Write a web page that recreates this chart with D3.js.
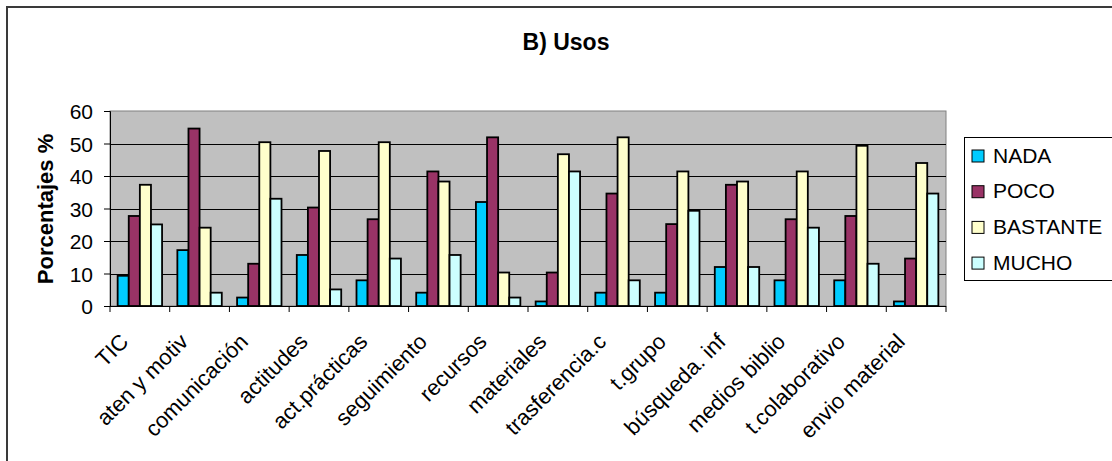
<!DOCTYPE html>
<html>
<head>
<meta charset="utf-8">
<script src="https://cdn.jsdelivr.net/npm/d3@7"></script>
<style>
  html, body { margin: 0; padding: 0; background: #fff; }
  svg { display: block; font-family: "Liberation Sans", Arial, sans-serif; }
</style>
</head>
<body>
<svg id="chart" width="1112" height="461"></svg>
<script>
// Categories and series (percentages)
const categories = ["TIC", "aten y motiv", "comunicación", "actitudes", "act.prácticas",
  "seguimiento", "recursos", "materiales", "trasferencia.c", "t.grupo",
  "búsqueda. inf", "medios biblio", "t.colaborativo", "envio material"];
const seriesNames = ["NADA", "POCO", "BASTANTE", "MUCHO"];
const nada     = [9.3, 17.2, 2.6, 15.7, 7.9, 4.1, 32.0, 1.4, 4.1, 4.1, 12.0, 7.9, 7.9, 1.4];
const poco     = [27.7, 54.6, 13.0, 30.3, 26.7, 41.4, 51.9, 10.3, 34.6, 25.2, 37.3, 26.7, 27.7, 14.6];
const bastante = [37.3, 24.1, 50.4, 47.7, 50.4, 38.3, 10.3, 46.7, 51.9, 41.4, 38.3, 41.4, 49.3, 44.0];
const mucho    = [25.1, 4.1, 33.0, 5.1, 14.6, 15.7, 2.6, 41.4, 7.9, 29.3, 12.0, 24.1, 13.0, 34.6];
const yTicks = [0, 10, 20, 30, 40, 50, 60];
const colors = ["#00CCFF", "#993366", "#FFFFCC", "#CCFFFF"];

const seriesValues = [nada, poco, bastante, mucho];

const svg = d3.select("#chart");

// Outer chart frame
svg.append("rect").attr("x", 7).attr("y", 7).attr("width", 1120).attr("height", 470)
  .attr("fill", "#fff").attr("stroke", "#3a3a3a").attr("stroke-width", 2);

const plot = { left: 110, right: 946, top: 111, bottom: 306 };

const x0 = d3.scaleBand().domain(categories).range([plot.left, plot.right]).paddingInner(0).paddingOuter(0);
const innerPad = 0.128;
const x1 = d3.scaleBand().domain(seriesNames)
  .range([x0.bandwidth() * innerPad, x0.bandwidth() * (1 - innerPad)]).padding(0);
const y = d3.scaleLinear().domain([0, 60]).range([plot.bottom, plot.top]);

// Plot background
svg.append("rect").attr("x", plot.left).attr("y", plot.top)
  .attr("width", plot.right - plot.left).attr("height", plot.bottom - plot.top)
  .attr("fill", "#C0C0C0").attr("stroke", "#808080").attr("stroke-width", 1);

// Gridlines
svg.append("g").selectAll("line").data(yTicks.filter(t => t > 0 && t < 60)).join("line")
  .attr("x1", plot.left).attr("x2", plot.right)
  .attr("y1", d => Math.round(y(d)) + 0.5).attr("y2", d => Math.round(y(d)) + 0.5)
  .attr("stroke", "#000").attr("stroke-width", 1);

// Bars
const groups = svg.append("g").selectAll("g").data(categories).join("g")
  .attr("transform", d => `translate(${x0(d)},0)`);
groups.selectAll("rect")
  .data((c, i) => seriesNames.map((s, k) => ({ s, k, v: seriesValues[k][i] })))
  .join("rect")
  .attr("x", d => x1(d.s))
  .attr("y", d => y(d.v))
  .attr("width", x1.bandwidth())
  .attr("height", d => plot.bottom - y(d.v))
  .attr("fill", d => colors[d.k])
  .attr("stroke", "#000").attr("stroke-width", 1.8);

// Y axis
const yAxis = d3.axisLeft(y).tickValues(yTicks).tickSize(6).tickPadding(11);
const gy = svg.append("g").attr("transform", `translate(${plot.left},0)`).call(yAxis);
gy.select(".domain").attr("stroke", "#000");
gy.selectAll(".tick line").attr("stroke", "#000");
gy.selectAll("text").attr("font-size", 21).attr("dy", "0.36em").attr("fill", "#000")
  .attr("font-family", "Liberation Sans, Arial, sans-serif");

// X axis: ticks on category boundaries
const gx = svg.append("g").attr("transform", `translate(0,${plot.bottom})`);
gx.append("line").attr("x1", plot.left).attr("x2", plot.right).attr("y1", 0.5).attr("y2", 0.5).attr("stroke", "#000");
const boundaries = categories.map(c => x0(c)).concat([plot.right]);
gx.selectAll("line.tk").data(boundaries).join("line").attr("class", "tk")
  .attr("x1", d => d).attr("x2", d => d).attr("y1", 0).attr("y2", 6).attr("stroke", "#000");
gx.selectAll("text").data(categories).join("text")
  .attr("transform", d => `translate(${x0(d) + x0.bandwidth() / 2 - 10},37) rotate(-45)`)
  .attr("text-anchor", "end")
  .attr("font-size", 22).attr("fill", "#000")
  .text(d => d);

// Title
svg.append("text").attr("x", 566).attr("y", 50).attr("text-anchor", "middle")
  .attr("font-size", 23).attr("font-weight", "bold").text("B) Usos");

// Y axis title
svg.append("text").attr("transform", `translate(52.5,209) rotate(-90)`)
  .attr("text-anchor", "middle").attr("font-size", 22).attr("font-weight", "bold")
  .text("Porcentajes %");

// Legend
const legend = svg.append("g");
legend.append("rect").attr("x", 964.5).attr("y", 137.5).attr("width", 160).attr("height", 143)
  .attr("fill", "#fff").attr("stroke", "#000").attr("stroke-width", 1);
const items = legend.selectAll("g").data(seriesNames).join("g")
  .attr("transform", (d, i) => `translate(972,${155 + i * 35.7})`);
items.append("rect").attr("x", 0).attr("y", -5).attr("width", 12).attr("height", 12)
  .attr("fill", (d, i) => colors[i]).attr("stroke", "#000").attr("stroke-width", 1);
items.append("text").attr("x", 21).attr("y", 0).attr("dy", "0.36em")
  .attr("font-size", 21).text(d => d);
</script>
</body>
</html>
